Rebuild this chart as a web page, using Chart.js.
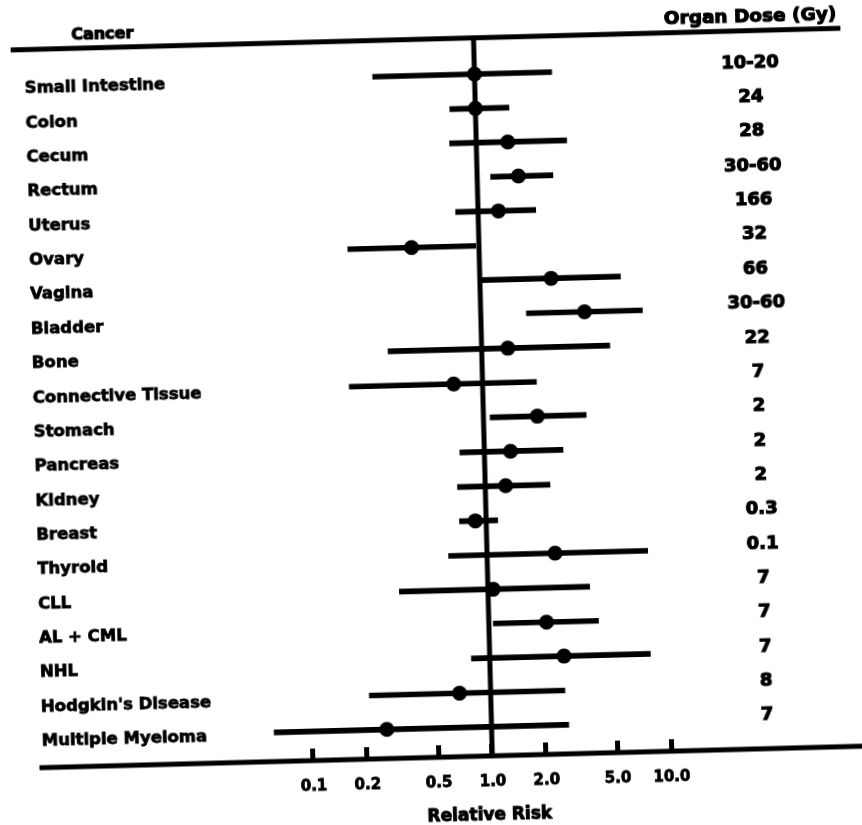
<!DOCTYPE html>
<html>
<head>
<meta charset="utf-8">
<script src="https://cdn.jsdelivr.net/npm/chart.js@4.4.0/dist/chart.umd.min.js"></script>
<style>
  html, body { margin: 0; padding: 0; background: #fff; overflow: hidden; }
  #chart {
    position: absolute; left: 0; top: 0;
    /* the scan is slightly turned */
    transform: rotate(-1.5deg);
    transform-origin: 483px 400px;
  }
</style>
</head>
<body>
<canvas id="chart" width="862" height="825"></canvas>
<script>
// cancers, top to bottom
var cancers = ['Small Intestine', 'Colon', 'Cecum', 'Rectum', 'Uterus', 'Ovary', 'Vagina',
  'Bladder', 'Bone', 'Connective Tissue', 'Stomach', 'Pancreas', 'Kidney', 'Breast',
  'Thyroid', 'CLL', 'AL + CML', 'NHL', "Hodgkin's Disease", 'Multiple Myeloma'];
var organDose = ['10-20', '24', '28', '30-60', '166', '32', '66', '30-60', '22', '7',
  '2', '2', '2', '0.3', '0.1', '7', '7', '7', '8', '7'];

// relative risk and its interval
var relRisk = [1.0, 1.0, 1.5, 1.7, 1.3, 0.42, 2.5, 3.8, 1.4, 0.69,
  2.0, 1.4, 1.3, 0.87, 2.4, 1.07, 2.1, 2.6, 0.67, 0.26];
var lower = [0.27, 0.72, 0.71, 1.19, 0.75, 0.185, 1.03, 1.8, 0.30, 0.18,
  1.09, 0.73, 0.70, 0.71, 0.61, 0.32, 1.06, 0.79, 0.21, 0.061];
var upper = [2.7, 1.54, 3.2, 2.65, 2.1, 0.96, 6.1, 8.0, 5.2, 2.0,
  3.75, 2.75, 2.3, 1.16, 7.9, 3.7, 4.1, 7.9, 2.6, 2.7];

var tickVals = [0.1, 0.2, 0.5, 1, 2, 5, 10];
var tickLabels = ['0.1', '0.2', '0.5', '1.0', '2.0', '5.0', '10.0'];

var FONT = "'DejaVu Sans', sans-serif";

// heavy text like the printed original
function heavyText(ctx, txt, x, y, w) {
  ctx.lineWidth = w;
  ctx.strokeText(txt, x, y);
  ctx.fillText(txt, x, y);
}

// lines, vertical reference at 1.0 and the header / axis titles
var frame = {
  id: 'frame',
  beforeDatasetsDraw: function (chart) {
    var ctx = chart.ctx, area = chart.chartArea, x = chart.scales.x;
    var topY = area.top - 19;
    var baseY = x.top + 12;
    var one = x.getPixelForValue(1);
    ctx.save();
    ctx.strokeStyle = '#000';
    ctx.lineWidth = 5;
    ctx.beginPath();
    ctx.moveTo(20, topY); ctx.lineTo(850, topY);
    ctx.moveTo(30, baseY); ctx.lineTo(chart.width, baseY);
    ctx.moveTo(one, topY); ctx.lineTo(one, baseY);
    ctx.stroke();

    ctx.fillStyle = '#000';
    ctx.lineJoin = 'round';
    ctx.textAlign = 'center';
    ctx.textBaseline = 'middle';
    ctx.font = 'bold 16px ' + FONT;
    heavyText(ctx, 'Cancer', 112, topY - 13, 1.2);
    ctx.font = 'bold 18.5px ' + FONT;
    heavyText(ctx, 'Organ Dose (Gy)', 760, topY - 14, 1.2);
    ctx.font = 'bold 17px ' + FONT;
    var mid = (x.getPixelForValue(tickVals[0]) + x.getPixelForValue(tickVals[tickVals.length - 1])) / 2;
    heavyText(ctx, 'Relative Risk', mid - 4, x.top + 72, 1);
    ctx.restore();
  }
};

new Chart(document.getElementById('chart'), {
  type: 'bar',
  data: {
    labels: cancers,
    datasets: [{
      type: 'line',
      indexAxis: 'y',
      data: relRisk,
      showLine: false,
      pointRadius: 7.5,
      pointBackgroundColor: '#000',
      pointBorderWidth: 0,
      order: 0
    }, {
      type: 'bar',
      indexAxis: 'y',
      data: lower.map(function (lo, i) { return [lo, upper[i]]; }),
      backgroundColor: '#000',
      borderWidth: 0,
      barThickness: 5,
      order: 1
    }]
  },
  options: {
    indexAxis: 'y',
    responsive: false,
    animation: false,
    events: [],
    layout: { padding: { left: 33, right: 30, top: 56, bottom: 0 } },
    plugins: { legend: { display: false }, tooltip: { enabled: false } },
    scales: {
      x: {
        type: 'logarithmic',
        position: 'bottom',
        min: 0.03309,
        max: 13.27,
        afterBuildTicks: function (s) {
          s.ticks = tickVals.map(function (v) { return { value: v }; });
        },
        afterFit: function (s) { s.height = 81; },
        border: { display: false },
        grid: { drawOnChartArea: false, drawTicks: true, tickLength: 12, tickWidth: 5, tickColor: '#000' },
        ticks: {
          color: '#000',
          font: { family: FONT, size: 15, weight: 'bold' },
          textStrokeColor: '#000',
          textStrokeWidth: 0.8,
          padding: 17,
          maxRotation: 0,
          autoSkip: false,
          callback: function (v, i) { return tickLabels[i]; }
        }
      },
      y: {
        type: 'category',
        position: 'left',
        offset: true,
        afterFit: function (s) { s.width = 185; },
        border: { display: false },
        grid: { display: false, drawTicks: false },
        ticks: {
          color: '#000',
          crossAlign: 'far',
          padding: 0,
          labelOffset: 3,
          textStrokeColor: '#000',
          textStrokeWidth: 0.8,
          font: { family: FONT, size: 16.5, weight: 'bold' }
        }
      },
      y2: {
        type: 'category',
        position: 'right',
        labels: organDose,
        offset: true,
        afterFit: function (s) { s.width = 148; },
        border: { display: false },
        grid: { display: false, drawTicks: false },
        ticks: {
          color: '#000',
          crossAlign: 'center',
          padding: 46,
          labelOffset: -4,
          textStrokeColor: '#000',
          textStrokeWidth: 1.2,
          font: { family: FONT, size: 18, weight: 'bold' }
        }
      }
    }
  },
  plugins: [frame]
});
</script>
</body>
</html>
